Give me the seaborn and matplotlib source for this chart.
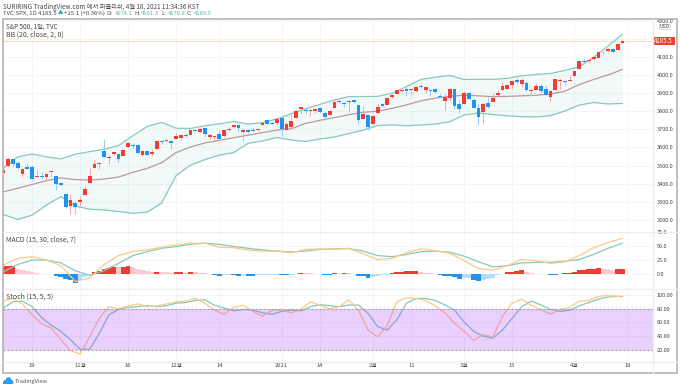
import matplotlib
matplotlib.use("Agg")
import matplotlib.pyplot as plt
from matplotlib.patches import Rectangle, Circle
import numpy as np
import seaborn as sns

# daily candles, Oct 9 2020 .. Apr 16 2021
opens = [3459, 3500, 3534, 3515, 3453, 3493, 3493, 3439, 3440, 3439,
         3464, 3441, 3403, 3342, 3277, 3293, 3297, 3336, 3406, 3485,
         3508, 3583, 3543, 3563, 3563, 3552, 3600, 3611, 3612, 3559,
         3580, 3566, 3594, 3635, 3634, 3634, 3645, 3654, 3668, 3670,
         3694, 3683, 3705, 3659, 3656, 3675, 3666, 3696, 3713, 3723,
         3684, 3698, 3694, 3694, 3723, 3750, 3736, 3733, 3764, 3698,
         3712, 3764, 3810, 3803, 3801, 3803, 3815, 3788, 3781, 3816,
         3857, 3845, 3851, 3862, 3837, 3755, 3778, 3731, 3791, 3840,
         3837, 3878, 3893, 3911, 3920, 3917, 3912, 3940, 3918, 3915,
         3921, 3886, 3858, 3874, 3920, 3839, 3842, 3903, 3864, 3818,
         3793, 3844, 3852, 3891, 3916, 3924, 3943, 3974, 3949, 3953,
         3913, 3917, 3938, 3920, 3880, 3917, 3969, 3964, 3968, 3992,
         4034, 4075, 4075, 4089, 4096, 4124, 4130, 4141, 4140, 4174.1]
highs = [3483, 3550, 3534, 3528, 3489, 3516, 3502, 3476, 3465, 3460,
         3466, 3441, 3409, 3342, 3342, 3304, 3330, 3389, 3486, 3530,
         3521, 3646, 3557, 3581, 3570, 3593, 3628, 3624, 3620, 3586,
         3581, 3589, 3643, 3635, 3644, 3634, 3678, 3670, 3682, 3699,
         3697, 3708, 3713, 3678, 3665, 3698, 3695, 3712, 3725, 3727,
         3703, 3703, 3712, 3703, 3740, 3756, 3744, 3760, 3770, 3738,
         3784, 3811, 3826, 3817, 3811, 3820, 3823, 3796, 3804, 3860,
         3862, 3853, 3860, 3870, 3837, 3830, 3778, 3784, 3843, 3848,
         3872, 3894, 3916, 3919, 3932, 3925, 3937, 3950, 3933, 3922,
         3930, 3902, 3895, 3928, 3925, 3862, 3914, 3906, 3875, 3843,
         3851, 3881, 3903, 3917, 3960, 3944, 3970, 3982, 3984, 3969,
         3930, 3955, 3949, 3943, 3919, 3978, 3981, 3969, 3994, 4021,
         4084, 4086, 4083, 4098, 4129, 4131, 4149, 4151, 4173, 4191.3]
lows = [3459, 3490, 3500, 3480, 3440, 3480, 3419, 3435, 3433, 3415,
        3440, 3364, 3388, 3268, 3234, 3233, 3279, 3336, 3406, 3485,
        3484, 3548, 3511, 3558, 3519, 3552, 3600, 3595, 3567, 3553,
        3557, 3552, 3594, 3617, 3630, 3594, 3645, 3644, 3658, 3670,
        3684, 3678, 3660, 3645, 3634, 3645, 3660, 3689, 3710, 3686,
        3636, 3680, 3689, 3690, 3723, 3723, 3730, 3726, 3663, 3695,
        3705, 3764, 3783, 3789, 3776, 3789, 3792, 3750, 3781, 3816,
        3845, 3821, 3797, 3848, 3732, 3755, 3694, 3725, 3791, 3822,
        3837, 3874, 3893, 3907, 3885, 3890, 3905, 3930, 3900, 3885,
        3903, 3874, 3805, 3859, 3814, 3789, 3842, 3868, 3816, 3723,
        3730, 3820, 3852, 3885, 3916, 3915, 3924, 3949, 3935, 3910,
        3886, 3915, 3901, 3889, 3854, 3917, 3923, 3943, 3965, 3992,
        4034, 4069, 4068, 4082, 4096, 4114, 4124, 4120, 4140, 4170.8]
closes = [3477, 3534, 3511, 3489, 3483, 3483, 3427, 3443, 3436, 3453,
          3465, 3401, 3391, 3271, 3310, 3270, 3310, 3370, 3443, 3510,
          3509, 3550, 3545, 3573, 3537, 3585, 3627, 3610, 3568, 3582,
          3558, 3577, 3635, 3629, 3638, 3622, 3662, 3669, 3666, 3699,
          3692, 3702, 3673, 3668, 3663, 3647, 3695, 3702, 3722, 3709,
          3695, 3687, 3691, 3703, 3735, 3727, 3732, 3756, 3701, 3727,
          3748, 3803, 3825, 3799, 3801, 3810, 3795, 3768, 3799, 3852,
          3853, 3841, 3855, 3849, 3750, 3787, 3714, 3774, 3826, 3830,
          3872, 3887, 3915, 3911, 3910, 3917, 3935, 3933, 3932, 3914,
          3906, 3876, 3881, 3925, 3829, 3811, 3901, 3870, 3820, 3768,
          3842, 3821, 3875, 3899, 3939, 3943, 3969, 3963, 3974, 3915,
          3913, 3941, 3911, 3889, 3910, 3975, 3971, 3959, 3973, 4020,
          4077, 4074, 4080, 4097, 4129, 4128, 4141, 4125, 4171, 4185.5]

# every third bar
band_bars = list(range(0, 130, 3))
bb_upper = [3487, 3548, 3564, 3548, 3537, 3563, 3577, 3590, 3610, 3665, 3716,
            3739, 3706, 3705, 3720, 3730, 3743, 3729, 3737, 3758, 3786, 3814,
            3838, 3862, 3881, 3881, 3882, 3899, 3936, 3975, 3988, 3997, 3975,
            3976, 3976, 3981, 3995, 4003, 4008, 4025, 4045, 4098, 4160, 4224]
bb_mid = [3356, 3375, 3396, 3417, 3432, 3423, 3420, 3426, 3437, 3463, 3485,
          3516, 3572, 3603, 3625, 3639, 3654, 3668, 3682, 3696, 3703, 3733,
          3750, 3765, 3781, 3794, 3800, 3816, 3835, 3857, 3872, 3882, 3888,
          3885, 3880, 3882, 3885, 3888, 3895, 3910, 3947, 3975, 4000, 4031]
bb_lower = [3231, 3203, 3227, 3283, 3329, 3277, 3260, 3256, 3247, 3237, 3244,
            3294, 3445, 3503, 3533, 3558, 3572, 3623, 3636, 3655, 3641, 3633,
            3647, 3658, 3677, 3696, 3721, 3724, 3720, 3724, 3729, 3742, 3779,
            3790, 3782, 3775, 3770, 3768, 3776, 3801, 3834, 3848, 3840, 3843]

macd_line = [16, 28, 31, 25, 15, -13, -7, 17, 33, 40, 43, 48, 52, 55, 55, 48,
             47, 43, 41, 41, 38, 44, 45, 44, 46, 36, 26, 28, 38, 45, 42, 37,
             24, 10, 7, 15, 26, 24, 19, 22, 33, 47, 56, 64]
macd_signal = [4, 17, 25, 25, 20, 6, -2, 6, 19, 33, 40, 46, 49, 53, 55, 53, 49,
               46, 43, 41, 39.5, 41, 44, 45, 45.5, 41, 33, 31, 35, 40, 41, 39,
               32, 22, 13, 15, 20, 21, 21, 23, 26, 35, 46, 55]
macd_hist = [14, 14, 15, 9.5, 7.5, 5, 3, 2, 0.5, -0.3,
             -0.6, -2.5, -5, -8, -11, -15, -11, -6, -2, 3,
             6, 9, 11, 13, 12, 13, 14, 13, 10, 7,
             5, 3, 4, 3.5, 3.4, 2.5, 3, 3.5, 2, 3.5,
             3, 2.5, 1.5, 0.5, -0.8, -2.5, -1.5, -1.4, -2, -2.5,
             -1.5, -3, -3.5, -2, -1.5, -1.2, -1, -0.8, -1.5, -1.8,
             -0.8, 1, 2.5, 1.5, 1.2, 1, 0.5, -1, -1.2, 1.5,
             1, 2, 1.5, 0.2, -2.5, -3.5, -7, -6, -4, -2,
             -1, 1.5, 3, 4, 5, 5.2, 5.4, 3.5, 2.5, 1.5,
             0.8, -1, -2.5, -3, -5, -9, -7.5, -6.5, -11, -13,
             -11, -9, -7, -2, 1, 3, 4, 5, 6.5, 3.5,
             2, 1, 0.5, -0.5, -2, -2.2, 0.5, 1.5, 2, 3,
             7, 8, 9, 9.5, 10.5, 10, 9, 8, 8.5, 8.6]

# every second bar, plus the last one
stoch_bars = list(range(0, 130, 2)) + [129]
stoch_k = [91, 95, 87, 71, 58, 52, 35, 19, 14, 39, 66, 83, 80, 84, 87, 83, 84,
           87, 90, 91, 95, 88, 78, 72, 82, 85, 76, 69, 78, 78, 74, 79, 90, 85,
           80, 83, 93, 78, 49, 39, 56, 90, 96, 95, 92, 84, 74, 59, 47, 34, 42,
           39, 69, 88, 94, 85, 79, 72, 79, 82, 91, 92, 98, 99, 98, 97]
stoch_d = [81, 90, 91, 83, 67, 56, 47, 35, 21, 21, 44, 71, 79, 82, 83, 84.5, 83,
           84.5, 88, 89, 92, 93, 85, 81, 77, 79, 78, 74, 72, 76, 78, 77, 83, 86,
           84.5, 83, 85.5, 85.5, 73, 54, 49, 64, 88, 95, 95, 92, 85.5, 78, 61,
           47, 40, 37, 49, 66, 83, 91, 85.5, 79, 76, 78, 84, 89, 94, 97, 98, 98]

price_ticks = [3200, 3300, 3400, 3500, 3600, 3700, 3800, 3900, 4000, 4100, 4200, 4300]
macd_ticks = [0, 25, 50, 75]
stoch_ticks = [20, 40, 60, 80, 100]
date_bars = [6, 16, 26, 36, 45, 58, 66, 77, 85, 96, 106, 119, 130]
date_labels = ["19", "11월", "16", "12월", "14", "2021", "14", "2월", "11", "3월", "15", "4월", "19"]

W, H = 680, 389
FONT = ["Noto Sans CJK KR", "DejaVu Sans"]
TEAL = "#84c9bd"
ORANGE = "#fcc987"
RED = "#f23c33"
BLUE = "#2092f0"
TEXT = "#41444c"


def pane(fig, top, bottom):
    """axes between two pixel rows, x runs on bar numbers"""
    ax = fig.add_axes([3 / W, 1 - bottom / H, 649.7 / W, (bottom - top) / H])
    ax.set_xlim(-0.06, 135.3)
    ax.set_xticks(date_bars)
    ax.set_xticklabels([])
    ax.yaxis.tick_right()
    ax.tick_params(length=0, labelsize=4.0, labelcolor=TEXT, pad=3)
    ax.grid(True, color="#f5f5f6", linewidth=0.7)
    ax.set_axisbelow(True)
    for s in ax.spines.values():
        s.set_visible(False)
    return ax


def draw_price(ax):
    ax.fill_between(band_bars, bb_lower, bb_upper, color="#26a69a", alpha=0.06, linewidth=0)
    sns.lineplot(x=band_bars, y=bb_upper, ax=ax, color=TEAL, linewidth=0.9)
    sns.lineplot(x=band_bars, y=bb_lower, ax=ax, color=TEAL, linewidth=0.9)
    sns.lineplot(x=band_bars, y=bb_mid, ax=ax, color="#b99a9c", linewidth=0.9)
    ax.axhline(closes[-1], color="#f9dccd", linewidth=0.8, zorder=1)

    bars = np.arange(len(closes))
    o, c = np.array(opens), np.array(closes)
    colors = np.where(c >= o, RED, BLUE)
    wicks = np.where(c >= o, "#f9a7a1", "#93cbf8")
    ax.vlines(bars, lows, highs, colors=wicks, linewidth=0.7, zorder=3)
    ax.bar(bars, np.maximum(np.abs(c - o), 5), bottom=np.minimum(o, c), width=0.78,
           color=colors, linewidth=0, zorder=4)

    ax.set_ylim(3134, 4308.5)
    ax.set_yticks(price_ticks)
    ax.set_yticklabels([f"{t:.1f}" for t in price_ticks])
    # last price tag on the price axis
    tag = ax.get_yaxis_transform()
    ax.add_patch(Rectangle((1.0, closes[-1] - 22), 0.0336, 44, transform=tag, fc=RED, ec="none",
                           clip_on=False, zorder=20))
    ax.text(1.0168, closes[-1], "4185.5", transform=tag, color="white", fontsize=4.4,
            va="center", ha="center", zorder=21, clip_on=False)


def hist_kind(i):
    """dark while the column grows, light while it shrinks"""
    v = macd_hist[i]
    prev = macd_hist[i - 1] if i else v
    if v >= 0:
        return "up" if v >= prev else "up_fade"
    return "down" if v <= prev else "down_fade"


def draw_macd(ax):
    kinds = [hist_kind(i) for i in range(len(macd_hist))]
    sns.barplot(x=list(range(len(macd_hist))), y=macd_hist, hue=kinds, ax=ax, native_scale=True,
                palette={"up": RED, "up_fade": "#fdc9d2", "down": BLUE, "down_fade": "#b6dcfb"},
                dodge=False, width=1.0, saturation=1, legend=False, linewidth=0, zorder=3)
    sns.lineplot(x=band_bars, y=macd_signal, ax=ax, color=TEAL, linewidth=0.9, zorder=4)
    sns.lineplot(x=band_bars, y=macd_line, ax=ax, color=ORANGE, linewidth=0.9, zorder=5)
    ax.set_ylim(-26.5, 74.3)
    ax.set_yticks(macd_ticks)
    ax.set_yticklabels([f"{t:.1f}" for t in macd_ticks])


def draw_stoch(ax):
    sns.lineplot(x=stoch_bars, y=stoch_d, ax=ax, color=TEAL, linewidth=0.9, zorder=3)
    sns.lineplot(x=stoch_bars, y=stoch_k, ax=ax, color=ORANGE, linewidth=0.9, zorder=4)
    # the band sits over the lines, that is why they change colour inside it
    ax.axhspan(20, 80, color="#9915ff", alpha=0.2, linewidth=0, zorder=5)
    for level in (20, 80):
        ax.axhline(level, color="#a9a3ad", linewidth=0.9, linestyle=(0, (1.6, 1.6)), zorder=6)
    ax.set_ylim(2.5, 108.7)
    ax.set_yticks(stoch_ticks)
    ax.set_yticklabels([f"{t:.2f}" for t in stoch_ticks])
    ax.set_xticklabels(date_labels)
    ax.tick_params(axis="x", labelbottom=True, pad=0.8, labelsize=4.2)


def draw_overlay(fig):
    over = fig.add_axes([0, 0, 1, 1], zorder=10)
    over.set_xlim(0, W)
    over.set_ylim(H, 0)
    over.axis("off")
    over.patch.set_alpha(0)

    over.add_patch(Rectangle((3, 19), 674, 354, fill=False, ec="#adadb0", lw=1.1))
    for y in (232, 289, 362):
        over.plot([3, 677], [y, y], color="#eeeef0", lw=1.0)
    over.plot([652.7, 652.7], [19, 373], color="#eeeef0", lw=1.0)

    # USD badge
    over.add_patch(Rectangle((659, 23.5), 11, 5.5, fc="white", ec="#c8c8cc", lw=0.5))
    over.text(664.5, 26.2, "USD", fontsize=3.6, color=TEXT, ha="center", va="center")

    head = dict(color="#44474f", va="center")
    nums = dict(fontsize=4.2, color="#53b9a9", va="center")
    over.text(3, 6.5, "SURIRING TradingView.com 에서 퍼블리쉬, 4월 18, 2021 11:34:36 KST", fontsize=4.55, **head)
    over.text(3, 13.5, "TVC:SPX, 1D 4185.5", fontsize=4.3, **head)
    over.text(57.5, 13, "▲", fontsize=3.8, color="#26a69a", ha="left", va="center")
    over.text(64, 13.5, "+15.1 (+0.36%)", fontsize=4.3, **head)
    for x, txt in [(107, "O:"), (134, "H:"), (161, "L:"), (187, "C:")]:
        over.text(x, 13.5, txt, fontsize=4.2, **head)
    for x, txt in [(115, "4174.1"), (141, "4191.3"), (168, "4170.8"), (194, "4185.5")]:
        over.text(x, 13.5, txt, **nums)

    over.text(6.5, 27, "S&P 500, 1일, TVC", fontsize=4.6, **head)
    over.text(6.5, 34.5, "BB (20, close, 2, 0)", fontsize=5.0, **head)
    over.text(6.5, 240, "MACD (15, 30, close, 7)", fontsize=4.9, **head)
    over.text(6.5, 296.7, "Stoch (15, 5, 5)", fontsize=5.0, **head)

    # logo
    for x, y, r in [(5.5, 382, 2.2), (8.5, 380, 2.8), (11.3, 382, 2.0)]:
        over.add_patch(Circle((x, y), r, fc="#2a9df4", ec="none"))
    over.add_patch(Rectangle((3.4, 382), 10, 2.2, fc="#2a9df4", ec="none"))
    over.text(15, 381, "TradingView", fontsize=4.1, color="#50535e", va="center")


def main():
    sns.set_theme(style="white")
    plt.rcParams["font.family"] = FONT

    fig = plt.figure(figsize=(W / 100, H / 100), dpi=100, facecolor="white")
    ax_price = pane(fig, 19, 232)
    ax_macd = pane(fig, 232, 289)
    ax_stoch = pane(fig, 289, 362)

    draw_price(ax_price)
    draw_macd(ax_macd)
    draw_stoch(ax_stoch)
    for ax in (ax_price, ax_macd, ax_stoch):
        ax.set_xlim(-0.06, 135.3)
    draw_overlay(fig)

    fig.savefig("out.png", dpi=100)


if __name__ == "__main__":
    main()
